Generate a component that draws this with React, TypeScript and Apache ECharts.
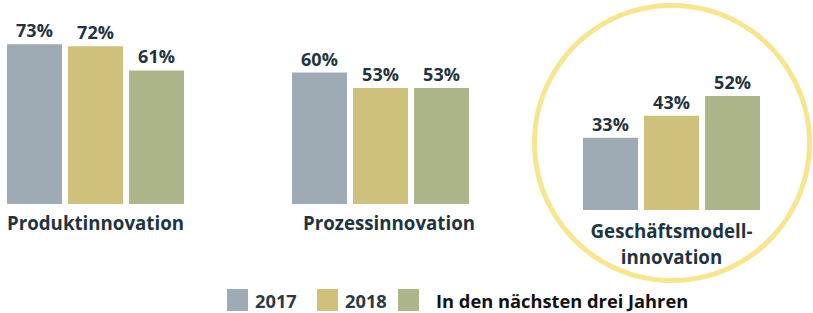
import React, { useEffect, useRef } from "react";
import * as echarts from "echarts";

const categories = ["Produktinnovation", "Prozessinnovation", "Geschäftsmodell-\ninnovation"];
const seriesNames = ["2017", "2018", "In den nächsten drei Jahren"];
const values2017 = [73, 60, 33];
const values2018 = [72, 53, 43];
const valuesNext = [61, 53, 52];

const seriesValues = [values2017, values2018, valuesNext];
const colors = ["#9eaab4", "#cfc07c", "#adb68a"];
const textColor = "#1e3440";
const font = "Open Sans";

const grids = [
  { left: 7, baseline: 204, labelPad: 0, margin: 5 },
  { left: 292, baseline: 204, labelPad: 17, margin: 5 },
  { left: 583, baseline: 210, labelPad: 0, margin: 7 },
];

export default function App() {
  const ref = useRef<HTMLDivElement>(null);
  useEffect(() => {
    if (!ref.current) return;
    const chart = echarts.init(ref.current, null, { renderer: "svg" });
    const pxPerUnit = 2.19;
    const yMax = 80;
    const gridH = pxPerUnit * yMax;
    const option: any = {
      animation: false,
      backgroundColor: "#ffffff",
      grid: grids.map((g) => ({
        left: g.left,
        width: 177,
        top: g.baseline - gridH,
        height: gridH,
        containLabel: false,
      })),
      xAxis: grids.map((g, i) => ({
        type: "category",
        gridIndex: i,
        data: [categories[i]],
        axisLine: { show: false },
        axisTick: { show: false },
        axisLabel: {
          margin: g.margin,
          fontFamily: font,
          fontWeight: "bold",
          fontSize: 18.7,
          lineHeight: 26,
          color: textColor,
          padding: [0, 0, 0, g.labelPad],
        },
      })),
      yAxis: grids.map((g, i) => ({
        type: "value",
        gridIndex: i,
        min: 0,
        max: yMax,
        show: false,
      })),
      legend: seriesNames.map((name, i) => ({
        data: [name],
        left: [227, 317, 398][i],
        top: 289,
        padding: 0,
        itemWidth: 21,
        itemHeight: 22,
        icon: "rect",
        selectedMode: false,
        textStyle: {
          fontFamily: font,
          fontWeight: "bold",
          fontSize: 18.3,
          color: i === 2 ? "#111111" : "#2b3a44",
          padding: [0, 0, 0, i === 2 ? 12 : 2],
        },
      })),
      graphic: [
        {
          type: "circle",
          z: -1,
          shape: { cx: 672, cy: 143, r: 137.5 },
          style: { fill: "none", stroke: "#f9e58f", lineWidth: 5 },
          silent: true,
        },
      ],
      series: grids.flatMap((g, gi) =>
        seriesNames.map((name, si) => ({
          type: "bar",
          name,
          xAxisIndex: gi,
          yAxisIndex: gi,
          data: [seriesValues[si][gi]],
          barWidth: 55,
          barGap: "11%",
          itemStyle: { color: colors[si] },
          label: {
            show: true,
            position: "top",
            distance: 5,
            formatter: "{c}%",
            fontFamily: font,
            fontWeight: "bold",
            fontSize: 18,
            color: textColor,
          },
        }))
      ),
    };
    chart.setOption(option);
    return () => chart.dispose();
  }, []);
  return (
    <div
      ref={ref}
      style={{ position: "fixed", left: 0, top: 0, width: 813, height: 313 }}
    />
  );
}
